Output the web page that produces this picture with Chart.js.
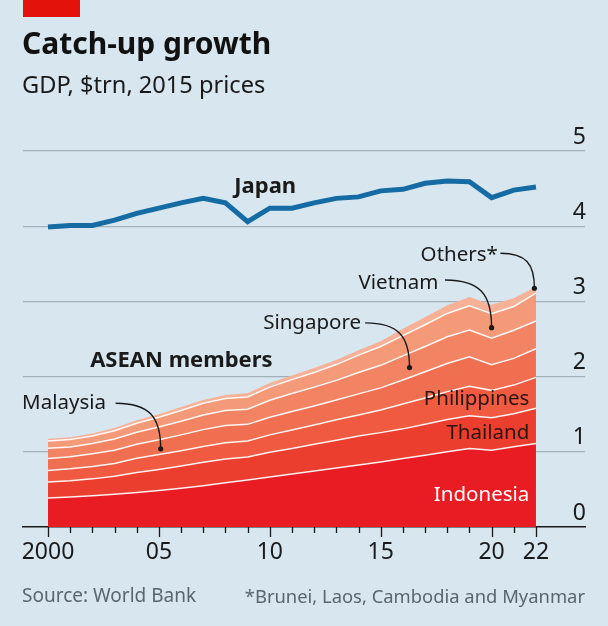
<!DOCTYPE html>
<html>
<head>
<meta charset="utf-8">
<script src="https://cdn.jsdelivr.net/npm/chart.js@4.4.1/dist/chart.umd.min.js"></script>
<style>
  body { margin: 0; background: #d7e6ef; }
  #wrap { position: relative; width: 608px; height: 626px; overflow: hidden; font-family: 'Noto Sans', sans-serif; }
  #wrap div.t { position: absolute; line-height: 1; white-space: nowrap; }
  canvas { position: absolute; left: 0; top: 0; }
</style>
</head>
<body>
<div id="wrap">
  <canvas id="chart" width="608" height="626"></canvas>
  <div style="position:absolute;left:23px;top:0;width:57px;height:17px;background:#e3120b"></div>
  <div class="t" style="left:22px;top:28px;font-size:30px;font-weight:700;color:#111">Catch-up growth</div>
  <div class="t" style="left:22px;top:73px;font-size:23.6px;color:#1a1a1a">GDP, $trn, 2015 prices</div>
  <div class="t" style="left:22px;top:586px;font-size:19px;color:#5b656d">Source: World Bank</div>
  <div class="t" style="right:23px;top:586.5px;font-size:18.4px;color:#5b656d">*Brunei, Laos, Cambodia and Myanmar</div>
</div>
<script>
// --- Data (GDP, $trn, 2015 prices) ---
const years = [2000, 2001, 2002, 2003, 2004, 2005, 2006, 2007, 2008, 2009, 2010, 2011,
               2012, 2013, 2014, 2015, 2016, 2017, 2018, 2019, 2020, 2021, 2022];

const indonesia   = [0.387, 0.40, 0.415, 0.435, 0.46, 0.485, 0.515, 0.55, 0.59, 0.625, 0.665, 0.705,
                     0.745, 0.785, 0.825, 0.865, 0.91, 0.955, 1.0, 1.045, 1.022, 1.067, 1.11];
const thailand    = [0.21, 0.215, 0.225, 0.24, 0.265, 0.28, 0.295, 0.31, 0.315, 0.305, 0.33, 0.34,
                     0.355, 0.37, 0.385, 0.39, 0.395, 0.41, 0.43, 0.435, 0.43, 0.44, 0.47];
const philippines = [0.155, 0.16, 0.165, 0.17, 0.19, 0.20, 0.205, 0.21, 0.215, 0.215, 0.23, 0.245,
                     0.255, 0.27, 0.28, 0.30, 0.33, 0.35, 0.37, 0.39, 0.365, 0.38, 0.41];
const malaysia    = [0.16, 0.16, 0.17, 0.175, 0.185, 0.195, 0.21, 0.225, 0.23, 0.22, 0.235, 0.245,
                     0.255, 0.265, 0.28, 0.295, 0.32, 0.35, 0.375, 0.395, 0.34, 0.355, 0.38];
const singapore   = [0.135, 0.13, 0.135, 0.15, 0.16, 0.17, 0.18, 0.195, 0.20, 0.20, 0.225, 0.24,
                     0.25, 0.26, 0.285, 0.30, 0.32, 0.335, 0.355, 0.355, 0.355, 0.375, 0.37];
const vietnam     = [0.095, 0.10, 0.10, 0.11, 0.12, 0.13, 0.145, 0.155, 0.16, 0.165, 0.175, 0.185,
                     0.195, 0.21, 0.23, 0.25, 0.27, 0.29, 0.31, 0.32, 0.325, 0.315, 0.37];
const others      = [0.03, 0.03, 0.035, 0.035, 0.04, 0.04, 0.045, 0.045, 0.045, 0.05, 0.055, 0.055,
                     0.06, 0.06, 0.065, 0.07, 0.09, 0.10, 0.11, 0.12, 0.12, 0.11, 0.08];
const japan       = [3.99, 4.01, 4.01, 4.08, 4.17, 4.24, 4.31, 4.37, 4.31, 4.06, 4.24, 4.24,
                     4.31, 4.37, 4.39, 4.47, 4.49, 4.57, 4.60, 4.59, 4.38, 4.48, 4.52];

// tick labels on the year axis
const majorYears = [2000, 2005, 2010, 2015, 2020, 2022];
const majorLabels = ['2000', '05', '10', '15', '20', '22'];
const yTicks = [0, 1, 2, 3, 4, 5];

// --- Style ---
const INK = '#1a1a1a';
const AREA_COLORS = ['#e91b23', '#ec3e2f', '#ef5a40', '#f06f50', '#f28463', '#f49a78', '#f7b197'];
const JAPAN_BLUE = '#156ba3';

const FONT = "'Noto Sans', sans-serif";
Chart.defaults.font.family = FONT;

const toPoints = (vals) => vals.map((v, i) => ({ x: years[i], y: v }));

// annotation text, placed in data units (year, $trn)
const notes = [
    { text: 'Japan', x: 2008.4, y: 4.44, align: 'left', bold: true, color: INK },
    { text: 'ASEAN members', x: 2001.9, y: 2.13, align: 'left', bold: true, color: INK },
    { text: 'Malaysia', x: 1998.83, y: 1.57, align: 'left', color: INK },
    { text: 'Singapore', x: 2009.7, y: 2.63, align: 'left', color: INK },
    { text: 'Vietnam', x: 2014.0, y: 3.165, align: 'left', color: INK },
    { text: 'Others*', x: 2016.8, y: 3.54, align: 'left', color: INK },
    { text: 'Philippines', x: 2021.7, y: 1.62, align: 'right', color: '#2a1512' },
    { text: 'Thailand', x: 2021.7, y: 1.165, align: 'right', color: '#2a1512' },
    { text: 'Indonesia', x: 2021.7, y: 0.345, align: 'right', color: '#ffffff' }
];

// leader lines: from label end to a dot inside the layer
const leaders = [
    { x0: 2003.05, y0: 1.645, x1: 2005.08, y1: 1.04 },
    { x0: 2014.3, y0: 2.715, x1: 2016.3, y1: 2.12 },
    { x0: 2017.9, y0: 3.285, x1: 2020.0, y1: 2.65 },
    { x0: 2020.4, y0: 3.64, x1: 2021.93, y1: 3.175 }
];

const annotationPlugin = {
    id: 'annotations',
    afterDatasetsDraw(chart) {
        const { ctx, scales: { x, y } } = chart;
        ctx.save();

        // year ticks below the axis
        const base = y.getPixelForValue(0);
        ctx.strokeStyle = INK;
        ctx.lineWidth = 1.3;
        years.forEach((yr) => {
            const px = Math.round(x.getPixelForValue(yr)) + 0.5;
            const len = majorYears.includes(yr) ? 10 : 6;
            ctx.beginPath();
            ctx.moveTo(px, base);
            ctx.lineTo(px, base + len);
            ctx.stroke();
        });

        // leaders
        ctx.lineWidth = 1.4;
        ctx.strokeStyle = INK;
        ctx.fillStyle = INK;
        leaders.forEach((l) => {
            const sx = x.getPixelForValue(l.x0), sy = y.getPixelForValue(l.y0);
            const ex = x.getPixelForValue(l.x1), ey = y.getPixelForValue(l.y1);
            ctx.beginPath();
            ctx.moveTo(sx, sy);
            ctx.bezierCurveTo(sx + (ex - sx) * 0.75, sy, ex, sy + (ey - sy) * 0.3, ex, ey);
            ctx.stroke();
            ctx.beginPath();
            ctx.arc(ex, ey, 2.6, 0, Math.PI * 2);
            ctx.fill();
        });

        // labels
        ctx.textBaseline = 'alphabetic';
        notes.forEach((n) => {
            ctx.font = (n.bold ? '700 22px ' : '400 20.5px ') + FONT;
            ctx.fillStyle = n.color;
            ctx.textAlign = n.align;
            ctx.fillText(n.text, x.getPixelForValue(n.x), y.getPixelForValue(n.y));
        });
        ctx.restore();
    }
};

const areaSeries = [
    ['Indonesia', indonesia],
    ['Thailand', thailand],
    ['Philippines', philippines],
    ['Malaysia', malaysia],
    ['Singapore', singapore],
    ['Vietnam', vietnam],
    ['Others', others]
];

const datasets = areaSeries.map(([name, vals], i) => ({
    label: name,
    data: toPoints(vals),
    stack: 'asean',
    fill: i === 0 ? 'origin' : '-1',
    backgroundColor: AREA_COLORS[i],
    borderColor: i === areaSeries.length - 1 ? 'rgba(0,0,0,0)' : 'rgba(255,255,255,0.92)',
    borderWidth: i === areaSeries.length - 1 ? 0 : 1.5,
    pointRadius: 0,
    tension: 0
}));

datasets.push({
    label: 'Japan',
    data: toPoints(japan),
    stack: 'japan',
    fill: false,
    borderColor: JAPAN_BLUE,
    borderWidth: 5,
    pointRadius: 0,
    tension: 0
});

new Chart(document.getElementById('chart'), {
    type: 'line',
    data: { datasets },
    options: {
        responsive: false,
        animation: false,
        devicePixelRatio: 1,
        layout: { padding: { left: 23, right: 23, top: 151, bottom: 59 } },
        plugins: { legend: { display: false }, tooltip: { enabled: false } },
        scales: {
            x: {
                type: 'linear',
                min: 2000 - 25 / 22.18,
                max: 2000 - 25 / 22.18 + 562 / 22.18,
                afterBuildTicks: (scale) => { scale.ticks = years.map((v) => ({ value: v })); },
                afterFit: (scale) => { scale.height = 40; },
                grid: { drawOnChartArea: false, drawTicks: false },
                border: { display: true, color: INK, width: 1.5 },
                ticks: {
                    autoSkip: false,
                    maxRotation: 0,
                    padding: 12,
                    color: INK,
                    font: { size: 23 },
                    callback: (v) => {
                        const k = majorYears.indexOf(v);
                        return k >= 0 ? majorLabels[k] : '';
                    }
                }
            },
            y: {
                position: 'right',
                stacked: true,
                min: 0,
                max: 5,
                afterBuildTicks: (scale) => { scale.ticks = yTicks.map((v) => ({ value: v })); },
                afterFit: (scale) => { scale.width = 0; },
                grid: {
                    drawTicks: false,
                    color: (c) => (c.tick && c.tick.value === 0 ? 'rgba(0,0,0,0)' : '#a3b1ba'),
                    lineWidth: 1.2
                },
                border: { display: false },
                ticks: {
                    mirror: true,
                    padding: 1,
                    labelOffset: -14,
                    color: INK,
                    font: { size: 23 }
                }
            }
        }
    },
    plugins: [annotationPlugin]
});
</script>
</body>
</html>
